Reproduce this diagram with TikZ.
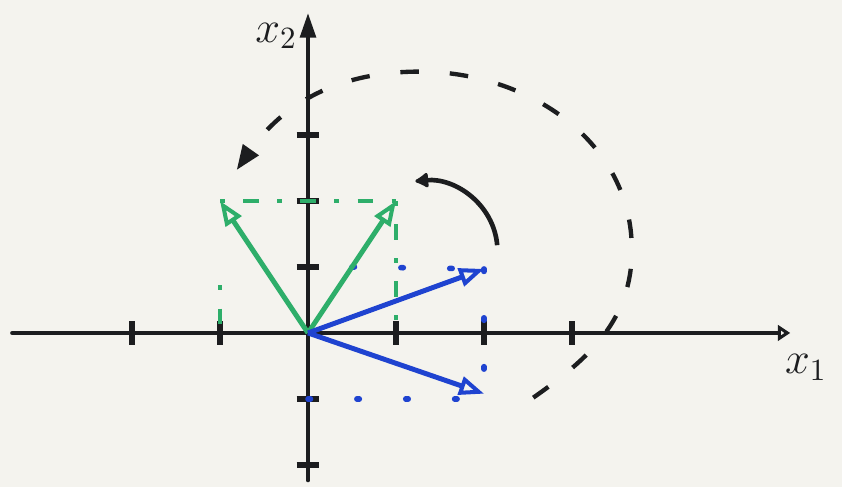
\documentclass[tikz,border=0pt]{standalone}
\usepackage{xcolor}
\usepackage{tikz}
\usetikzlibrary{arrows.meta,positioning}
\definecolor{vecInk}{HTML}{1C1D1F}
\definecolor{vecGreen}{HTML}{2EAE6A}
\definecolor{vecBlue}{HTML}{1F43D0}
\definecolor{vecPaper}{HTML}{F4F3EE}
\tikzset{
  vecaxis/.style={line width=1.4pt,vecInk,line cap=round},
  vectick/.style={line width=1.7pt,vecInk},
  vecgreen/.style={-{Triangle[open,length=8pt,width=6pt,line width=1.3pt]},
                   line width=1.6pt,vecGreen},
  vecblue/.style={-{Triangle[open,length=8pt,width=6pt,line width=1.3pt]},
                  line width=1.6pt,vecBlue},
  vecgproj/.style={vecGreen,line width=1.3pt,
                   dash pattern=on 1.5pt off 6pt on 5pt off 6pt},
  vecbproj/.style={vecBlue,line width=1.8pt,line cap=round,
                   dash pattern=on 0.8pt off 15pt},
  vecturn/.style={vecInk,line width=1.4pt,dash pattern=on 6pt off 10pt,
                  -{Triangle[length=8pt,width=6pt]}},
  vecbend/.style={vecInk,line width=1.5pt,-{Latex[round,length=5pt,width=6pt]}},
  veclabel/.style={font=\Large,text=vecInk,inner sep=0pt}
}

\begin{document}
\begin{tikzpicture}[x=1cm,y=0.75cm]
    \fill[vecPaper] (-3.5,-2.333) rectangle (6.068,5.045);
    \useasboundingbox (-3.5,-2.333) rectangle (6.068,5.045);

    % axes
    \coordinate (o) at (0,0);
    \coordinate (xl) at (-3.36,0);
    \coordinate (xr) at (5.48,0);
    \coordinate (yb) at (0,-2.23);
    \coordinate (yt) at (0,4.85);
    \draw[vecaxis,-{Triangle[open,length=4pt,width=5pt,line width=1.2pt]}]
      (xl) -- (xr);
    \draw[vecaxis,-{Triangle[length=8pt,width=5pt]}] (yb) -- (yt);
    \node[veclabel] (x1) at (5.66,-0.52) {$x_1$};
    \node[veclabel] (x2) at (-0.36,4.5) {$x_2$};

    % ticks
    \draw[vectick] (-2,-0.18) -- (-2,0.18);
    \draw[vectick] (-1,-0.18) -- (-1,0.18);
    \draw[vectick] (1,-0.18) -- (1,0.18);
    \draw[vectick] (2,-0.18) -- (2,0.18);
    \draw[vectick] (3,-0.18) -- (3,0.18);
    \draw[vectick] (-0.13,1) -- (0.13,1);
    \draw[vectick] (-0.13,2) -- (0.13,2);
    \draw[vectick] (-0.13,3) -- (0.13,3);
    \draw[vectick] (-0.13,-1) -- (0.13,-1);
    \draw[vectick] (-0.13,-2) -- (0.13,-2);

    % projections
    \coordinate (gl) at (-1,2);
    \coordinate (gr) at (1,2);
    \coordinate (bu) at (2,0.97);
    \coordinate (bd) at (2,-0.92);
    \coordinate (gl0) at (-1,0.72);
    \coordinate (gl1) at (-1,0);
    \coordinate (gr0) at (1,0.1);
    \coordinate (bu0) at (0.5,1);
    \coordinate (bd0) at (0,-1);
    \coordinate (bd1) at (2,-1);
    \draw[vecgproj] (gl) -- (gr);
    \draw[vecgproj] (gr) -- (gr0);
    \draw[vecgproj] (gl0) -- (gl1);
    \draw[vecbproj] (bu0) -- (bu);
    \draw[vecbproj] (bu) -- (bd1);
    \draw[vecbproj] (bd0) -- (bd1);

    % vectors
    \draw[vecgreen] (o) -- (gl);
    \draw[vecgreen] (o) -- (gr);
    \draw[vecblue] (o) -- (bu);
    \draw[vecblue] (o) -- (bd);

    % turning arrows
    \coordinate (cs) at (2.15,1.33);
    \coordinate (ce) at (1.22,2.3);
    \draw[vecbend] (cs) to[out=95,in=5] (ce);
    \coordinate (as) at (2.56,-0.98);
    \coordinate (ar) at (3.68,1.26);
    \coordinate (at) at (1.27,3.96);
    \coordinate (ae) at (-0.81,2.47);
    \draw[vecturn] (as) to[out=35,in=-90] (ar) to[out=90,in=0] (at)
      to[out=180,in=55] (ae);
  \end{tikzpicture}
\end{document}
